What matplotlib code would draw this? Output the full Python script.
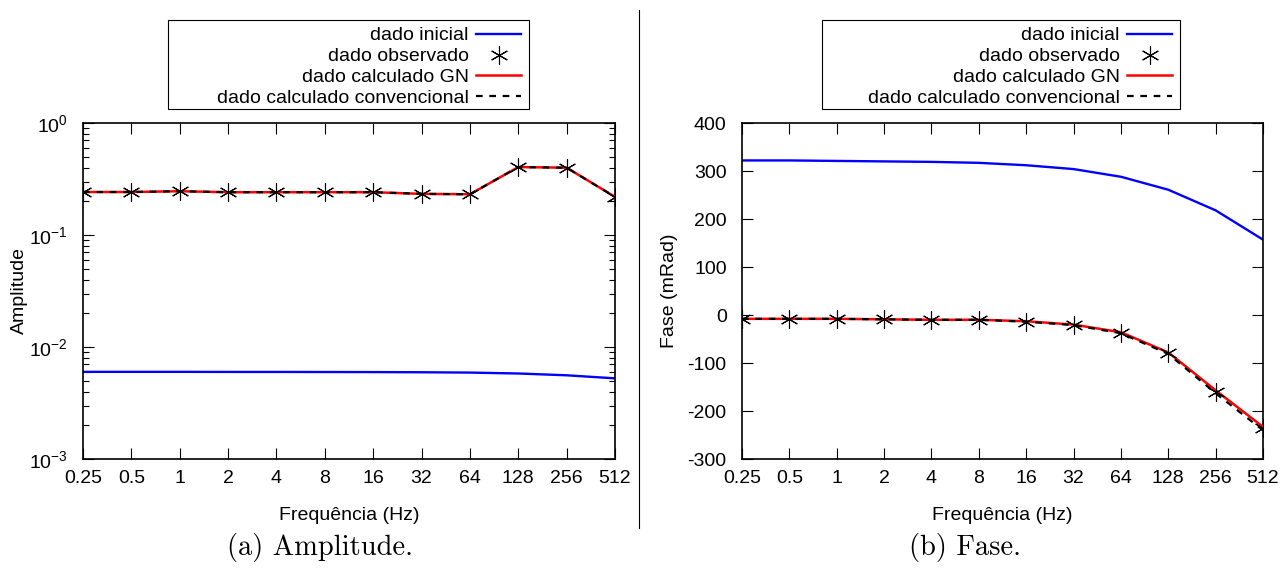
"""
Amplitude and phase curves versus frequency: initial model, observed data
and the two calculated responses (GN and conventional inversion).
"""

import matplotlib
matplotlib.use("Agg")
import matplotlib.pyplot as plt
import matplotlib.ticker as ticker
from matplotlib.lines import Line2D
from matplotlib.patches import Rectangle

plt.rcParams["font.family"] = ["Liberation Sans", "DejaVu Sans"]
plt.rcParams["axes.unicode_minus"] = False
plt.rcParams["mathtext.default"] = "regular"

W, H = 1284, 573

FREQS = [0.25, 0.5, 1, 2, 4, 8, 16, 32, 64, 128, 256, 512]
FREQ_LABELS = ["0.25", "0.5", "1", "2", "4", "8", "16", "32", "64", "128", "256", "512"]

# amplitude
AMP_INICIAL = [0.00600, 0.00600, 0.00600, 0.00599, 0.00599, 0.00598,
               0.00597, 0.00595, 0.00591, 0.00580, 0.00559, 0.00525]
AMP_OBS = [0.242, 0.242, 0.247, 0.241, 0.241, 0.241,
           0.241, 0.232, 0.231, 0.405, 0.400, 0.218]
AMP_GN = [0.242, 0.242, 0.246, 0.241, 0.241, 0.241,
          0.241, 0.233, 0.231, 0.404, 0.399, 0.219]
AMP_CONV = [0.242, 0.242, 0.246, 0.241, 0.241, 0.241,
            0.241, 0.233, 0.231, 0.404, 0.399, 0.219]

# phase (mRad)
FASE_INICIAL = [322, 322, 321, 320, 319, 317, 312, 304, 288, 261, 218, 157]
FASE_OBS = [-8, -8, -8, -9, -10, -10, -14, -20, -37, -79, -160, -236]
FASE_GN = [-8, -8, -8, -9, -10, -10, -13, -20, -36, -78, -157, -233]
FASE_CONV = [-8, -8, -8, -9, -10, -10, -14, -21, -38, -81, -163, -240]

LEGEND_LABELS = ["dado inicial", "dado observado",
                 "dado calculado GN", "dado calculado convencional"]

ASTERISK = (6, 2, 0)
FS = 14
MS = 13


def draw_panel(ax, inicial, obs, gn, conv):
    ax.plot(FREQS, inicial, color="#0000ff", lw=1.7)
    ax.plot(FREQS, gn, color="#ff0000", lw=1.8, zorder=3)
    ax.plot(FREQS, conv, color="black", lw=1.6, ls=(0, (3, 3)), zorder=4)
    ax.plot(FREQS, obs, ls="none", marker=ASTERISK, ms=MS, mew=0.8,
            color="black", zorder=5)
    ax.set_xscale("log", base=2)
    ax.set_xlim(0.25, 512)
    ax.xaxis.set_major_locator(ticker.FixedLocator(FREQS))
    ax.xaxis.set_major_formatter(ticker.FixedFormatter(FREQ_LABELS))
    ax.xaxis.set_minor_locator(ticker.NullLocator())
    ax.tick_params(which="both", direction="in", top=True, right=True,
                   labelsize=FS)
    ax.tick_params(axis="x", pad=8)
    ax.tick_params(axis="y", pad=11)
    ax.tick_params(which="major", length=8, width=0.8)
    ax.tick_params(which="minor", length=4, width=0.8)
    for sp in ax.spines.values():
        sp.set_linewidth(1.2)
    ax.set_xlabel("Frequência (Hz)", fontsize=FS, labelpad=14)


def add_legend(fig, box):
    # box = (left, top, right, bottom) in pixels from the top-left corner
    left, top, right, bottom = box
    handles = [
        Line2D([], [], color="#0000ff", lw=1.7),
        Line2D([], [], ls="none", marker=ASTERISK, ms=MS, mew=0.8, color="black"),
        Line2D([], [], color="#ff0000", lw=1.8),
        Line2D([], [], color="black", lw=1.6, ls=(0, (3, 3))),
    ]
    fig.legend(handles, LEGEND_LABELS, loc="upper right",
               bbox_to_anchor=((right - 2) / W, 1 - (top + 1) / H),
               borderaxespad=0, markerfirst=False, frameon=False,
               fontsize=FS, handlelength=2.3, handletextpad=0.4,
               labelspacing=0.17, borderpad=0.3)
    fig.add_artist(Rectangle((left / W, 1 - bottom / H), (right - left) / W,
                             (bottom - top) / H, transform=fig.transFigure,
                             fill=False, edgecolor="black", lw=0.8))


fig = plt.figure(figsize=(W / 100, H / 100), dpi=100)

ax1 = fig.add_axes([83 / W, 1 - 459 / H, 532 / W, 336 / H])
draw_panel(ax1, AMP_INICIAL, AMP_OBS, AMP_GN, AMP_CONV)
ax1.set_yscale("log")
ax1.set_ylim(1e-3, 1)
ax1.yaxis.set_major_locator(ticker.LogLocator(base=10, numticks=10))
ax1.yaxis.set_minor_locator(ticker.LogLocator(base=10, subs=range(2, 10), numticks=10))
ax1.yaxis.set_minor_formatter(ticker.NullFormatter())
ax1.set_ylabel("Amplitude", fontsize=FS)
ax1.yaxis.set_label_coords(-0.103, 0.5)

ax2 = fig.add_axes([742 / W, 1 - 459 / H, 521 / W, 336 / H])
draw_panel(ax2, FASE_INICIAL, FASE_OBS, FASE_GN, FASE_CONV)
ax2.set_ylim(-300, 400)
ax2.yaxis.set_major_locator(ticker.MultipleLocator(100))
ax2.set_ylabel("Fase (mRad)", fontsize=FS)
ax2.yaxis.set_label_coords(-0.123, 0.5)

add_legend(fig, (168, 20, 529, 109))
add_legend(fig, (822, 20, 1180, 109))

# separator between the two panels
fig.add_artist(Line2D([639 / W, 639 / W], [1 - 10 / H, 1 - 528 / H],
                      color="black", lw=0.8, transform=fig.transFigure))

fig.text(320 / W, 1 - 548 / H, "(a) Amplitude.", ha="center", va="center",
         family="cmr10", fontsize=20.5)
fig.text(965 / W, 1 - 548 / H, "(b) Fase.", ha="center", va="center",
         family="cmr10", fontsize=20.5)

fig.savefig("out.png", dpi=100)
